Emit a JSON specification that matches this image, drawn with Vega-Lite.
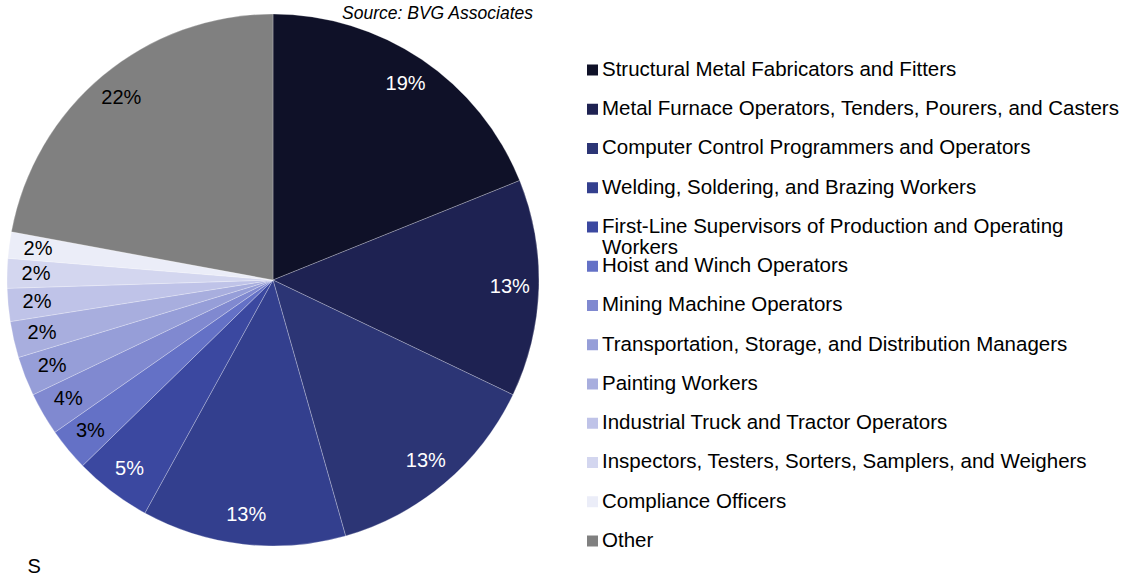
{
  "$schema": "https://vega.github.io/schema/vega-lite/v6.json",
  "autosize": {"type": "none"},
  "padding": {"left": 7, "top": 14, "right": 1115, "bottom": 563},
  "background": "white",
  "config": {"view": {"stroke": null}},
  "bounds": "flush",
  "spacing": 48,
  "data": {
    "values": [
      {"category": "Structural Metal Fabricators and Fitters", "display": "Structural Metal Fabricators and Fitters", "value": 18.9, "label": "19%", "order": 1},
      {"category": "Metal Furnace Operators, Tenders, Pourers, and Casters", "display": "Metal Furnace Operators, Tenders, Pourers, and Casters", "value": 13.2, "label": "13%", "order": 2},
      {"category": "Computer Control Programmers and Operators", "display": "Computer Control Programmers and Operators", "value": 13.5, "label": "13%", "order": 3},
      {"category": "Welding, Soldering, and Brazing Workers", "display": "Welding, Soldering, and Brazing Workers", "value": 12.4, "label": "13%", "order": 4},
      {"category": "First-Line Supervisors of Production and Operating Workers", "display": "First-Line Supervisors of Production and Operating|Workers", "value": 4.7, "label": "5%", "order": 5},
      {"category": "Hoist and Winch Operators", "display": "Hoist and Winch Operators", "value": 2.6, "label": "3%", "order": 6},
      {"category": "Mining Machine Operators", "display": "Mining Machine Operators", "value": 2.6, "label": "4%", "order": 7},
      {"category": "Transportation, Storage, and Distribution Managers", "display": "Transportation, Storage, and Distribution Managers", "value": 2.4, "label": "2%", "order": 8},
      {"category": "Painting Workers", "display": "Painting Workers", "value": 2.2, "label": "2%", "order": 9},
      {"category": "Industrial Truck and Tractor Operators", "display": "Industrial Truck and Tractor Operators", "value": 2.0, "label": "2%", "order": 10},
      {"category": "Inspectors, Testers, Sorters, Samplers, and Weighers", "display": "Inspectors, Testers, Sorters, Samplers, and Weighers", "value": 1.8, "label": "2%", "order": 11},
      {"category": "Compliance Officers", "display": "Compliance Officers", "value": 1.6, "label": "2%", "order": 12},
      {"category": "Other", "display": "Other", "value": 22.1, "label": "22%", "order": 13}
    ]
  },
  "hconcat": [
    {
      "width": 532,
      "height": 532,
      "title": {
        "text": "Source: BVG Associates",
        "frame": "group",
        "anchor": "end",
        "dx": -6,
        "dy": 17,
        "offset": -6,
        "baseline": "alphabetic",
        "font": "Liberation Sans",
        "fontSize": 17.5,
        "fontStyle": "italic",
        "fontWeight": "normal",
        "color": "black"
      },
      "layer": [
        {
          "mark": {"type": "arc", "outerRadius": 266, "stroke": "white", "strokeWidth": 0.5, "strokeOpacity": 0.5},
          "encoding": {
            "theta": {"field": "value", "type": "quantitative", "stack": true},
            "order": {"field": "order", "type": "quantitative"},
            "color": {
              "field": "category",
              "type": "nominal",
              "scale": {
                "domain": [
                  "Structural Metal Fabricators and Fitters",
                  "Metal Furnace Operators, Tenders, Pourers, and Casters",
                  "Computer Control Programmers and Operators",
                  "Welding, Soldering, and Brazing Workers",
                  "First-Line Supervisors of Production and Operating Workers",
                  "Hoist and Winch Operators",
                  "Mining Machine Operators",
                  "Transportation, Storage, and Distribution Managers",
                  "Painting Workers",
                  "Industrial Truck and Tractor Operators",
                  "Inspectors, Testers, Sorters, Samplers, and Weighers",
                  "Compliance Officers",
                  "Other"
                ],
                "range": ["#0f1128", "#1e2252", "#2c3575", "#333f8e", "#3b48a0", "#6471c6", "#8089d0", "#969ed8", "#a8aede", "#bfc3e8", "#d3d6ef", "#ebedf8", "#808080"]
              },
              "legend": null
            }
          }
        },
        {
          "mark": {"type": "text", "radius": 237, "font": "Liberation Sans", "fontSize": 20, "align": "center", "baseline": "middle"},
          "encoding": {
            "theta": {"field": "value", "type": "quantitative", "stack": true},
            "order": {"field": "order", "type": "quantitative"},
            "text": {"field": "label", "type": "nominal"},
            "color": {"condition": {"test": "datum.order <= 5", "value": "white"}, "value": "black"}
          }
        },
        {
          "mark": {"type": "text", "text": ""},
          "encoding": {
            "x": {
              "datum": 0,
              "type": "quantitative",
              "scale": {"domain": [0, 1]},
              "axis": {
                "domain": false,
                "ticks": false,
                "labels": false,
                "grid": false,
                "title": "S",
                "titleX": 20,
                "titleAlign": "left",
                "titleAnchor": "start",
                "titleBaseline": "alphabetic",
                "titlePadding": 26,
                "titleFont": "Liberation Sans",
                "titleFontSize": 20,
                "titleFontWeight": "normal",
                "titleColor": "black"
              }
            }
          }
        }
      ]
    },
    {
      "width": 11,
      "height": 532,
      "layer": [
        {
          "mark": {"type": "square", "size": 121, "opacity": 1, "filled": true},
          "encoding": {
            "y": {"field": "category", "type": "nominal", "sort": null, "scale": {"type": "point", "padding": 0.777, "align": 0.918}, "axis": null},
            "color": {
              "field": "category",
              "type": "nominal",
              "scale": {
                "domain": [
                  "Structural Metal Fabricators and Fitters",
                  "Metal Furnace Operators, Tenders, Pourers, and Casters",
                  "Computer Control Programmers and Operators",
                  "Welding, Soldering, and Brazing Workers",
                  "First-Line Supervisors of Production and Operating Workers",
                  "Hoist and Winch Operators",
                  "Mining Machine Operators",
                  "Transportation, Storage, and Distribution Managers",
                  "Painting Workers",
                  "Industrial Truck and Tractor Operators",
                  "Inspectors, Testers, Sorters, Samplers, and Weighers",
                  "Compliance Officers",
                  "Other"
                ],
                "range": ["#0f1128", "#1e2252", "#2c3575", "#333f8e", "#3b48a0", "#6471c6", "#8089d0", "#969ed8", "#a8aede", "#bfc3e8", "#d3d6ef", "#ebedf8", "#808080"]
              },
              "legend": null
            }
          }
        },
        {
          "mark": {"type": "text", "align": "left", "baseline": "top", "dx": 9.5, "dy": -10, "font": "Liberation Sans", "fontSize": 20.5, "lineHeight": 21, "lineBreak": "|", "color": "black"},
          "encoding": {
            "y": {"field": "category", "type": "nominal", "sort": null, "scale": {"type": "point", "padding": 0.777, "align": 0.918}, "axis": null},
            "text": {"field": "display", "type": "nominal"}
          }
        }
      ]
    }
  ]
}
